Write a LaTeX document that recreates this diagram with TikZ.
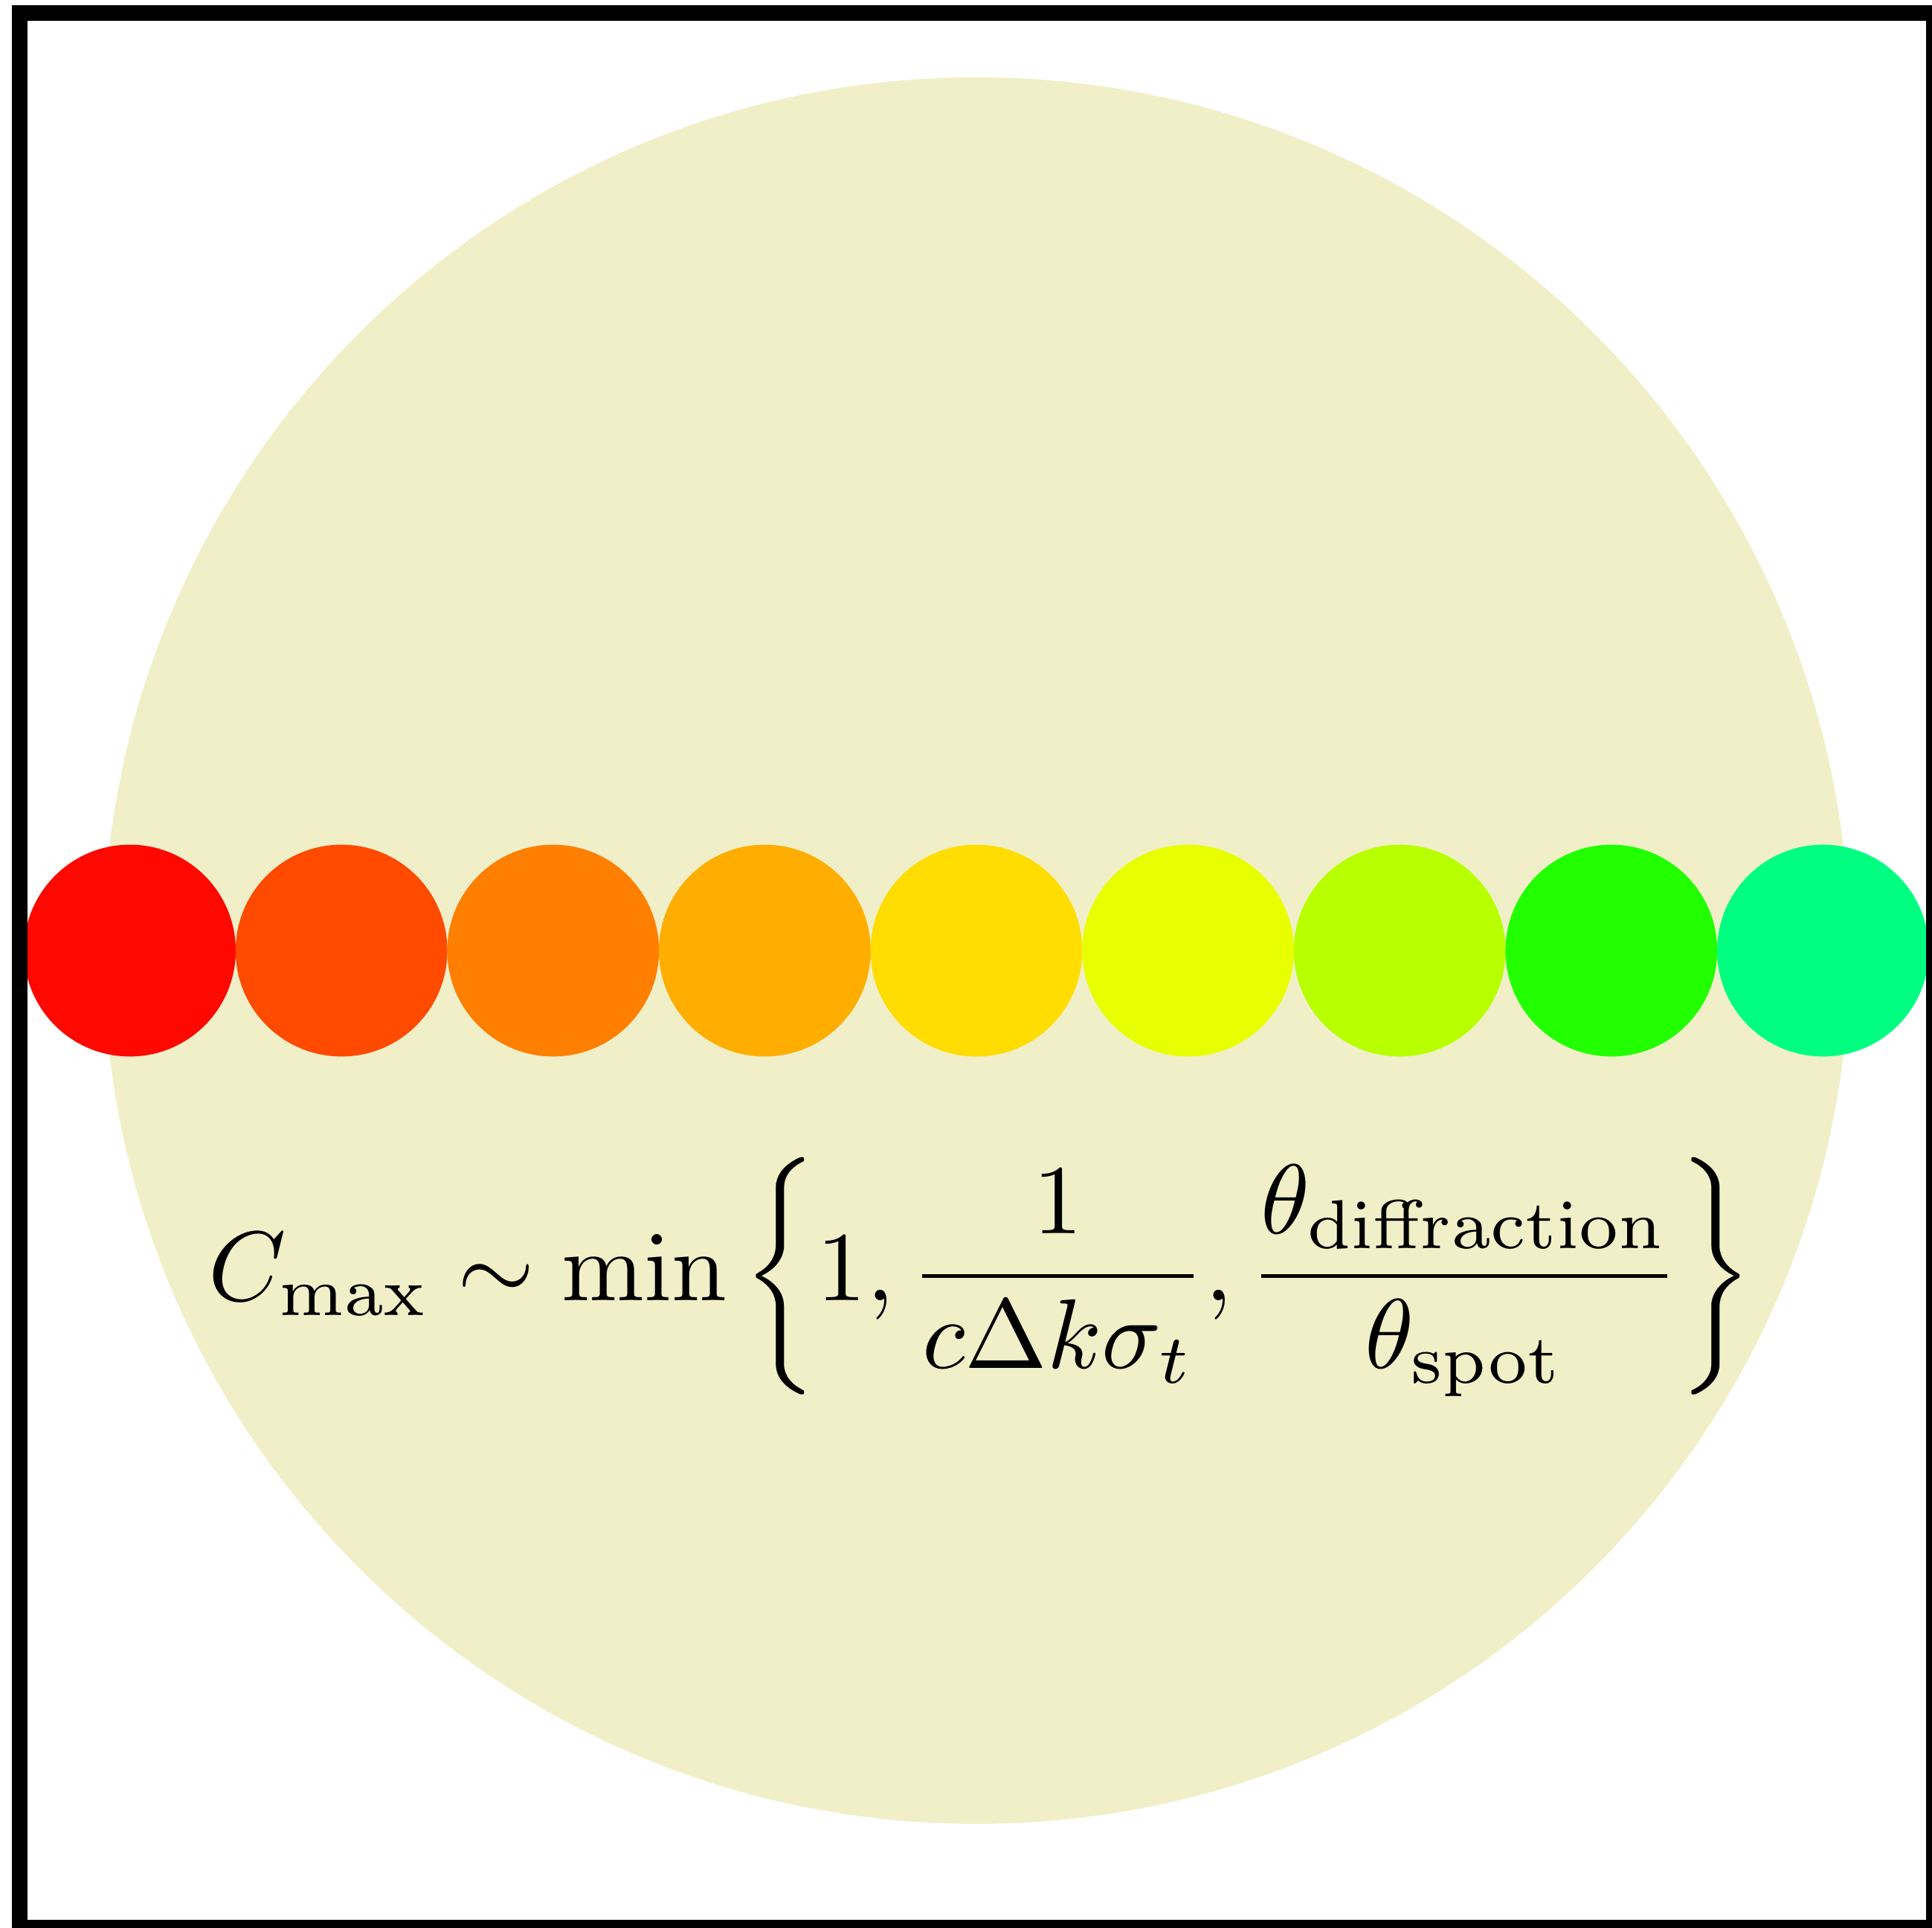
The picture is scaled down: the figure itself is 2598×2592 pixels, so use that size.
\documentclass[tikz,border=0pt]{standalone}
\usepackage{amsmath}

\definecolor{discbg}{HTML}{F0EFC7}
\definecolor{spotA}{HTML}{FF0800}
\definecolor{spotB}{HTML}{FF4A00}
\definecolor{spotC}{HTML}{FF7F00}
\definecolor{spotD}{HTML}{FFAE00}
\definecolor{spotE}{HTML}{FFDD00}
\definecolor{spotF}{HTML}{E8FF00}
\definecolor{spotG}{HTML}{B8FF00}
\definecolor{spotH}{HTML}{22FF00}
\definecolor{spotI}{HTML}{00FF80}

\begin{document}
\begin{tikzpicture}[x=0.01cm, y=0.01cm,
  spot/.style={circle, minimum size=2.846cm, inner sep=0pt, draw=none}]
  \useasboundingbox (0,0) rectangle (2598,2592);
  % Pale disc behind everything
  \fill[discbg] (1313,1314) circle (1174);
  % Row of touching coloured spots
  \foreach \c [count=\i from 0] in {spotA,spotB,spotC,spotD,spotE,spotF,spotG,spotH,spotI} {
    \node[spot, fill=\c] (s\i) at (174.6+284.6*\i,1314) {};
  }
  % Contrast formula
  \node[scale=3.78] (formula) at (1319,875)
    {$\displaystyle C_{\mathrm{max}} \sim \min\left\{1, \frac{1}{c\Delta k\sigma_t}, \frac{\theta_{\mathrm{diffraction}}}{\theta_{\mathrm{spot}}}\right\}$};
  % Outer frame
  \draw[line width=0.21cm] (26.5,0.5) rectangle (2600,2574.5);
\end{tikzpicture}
\end{document}
